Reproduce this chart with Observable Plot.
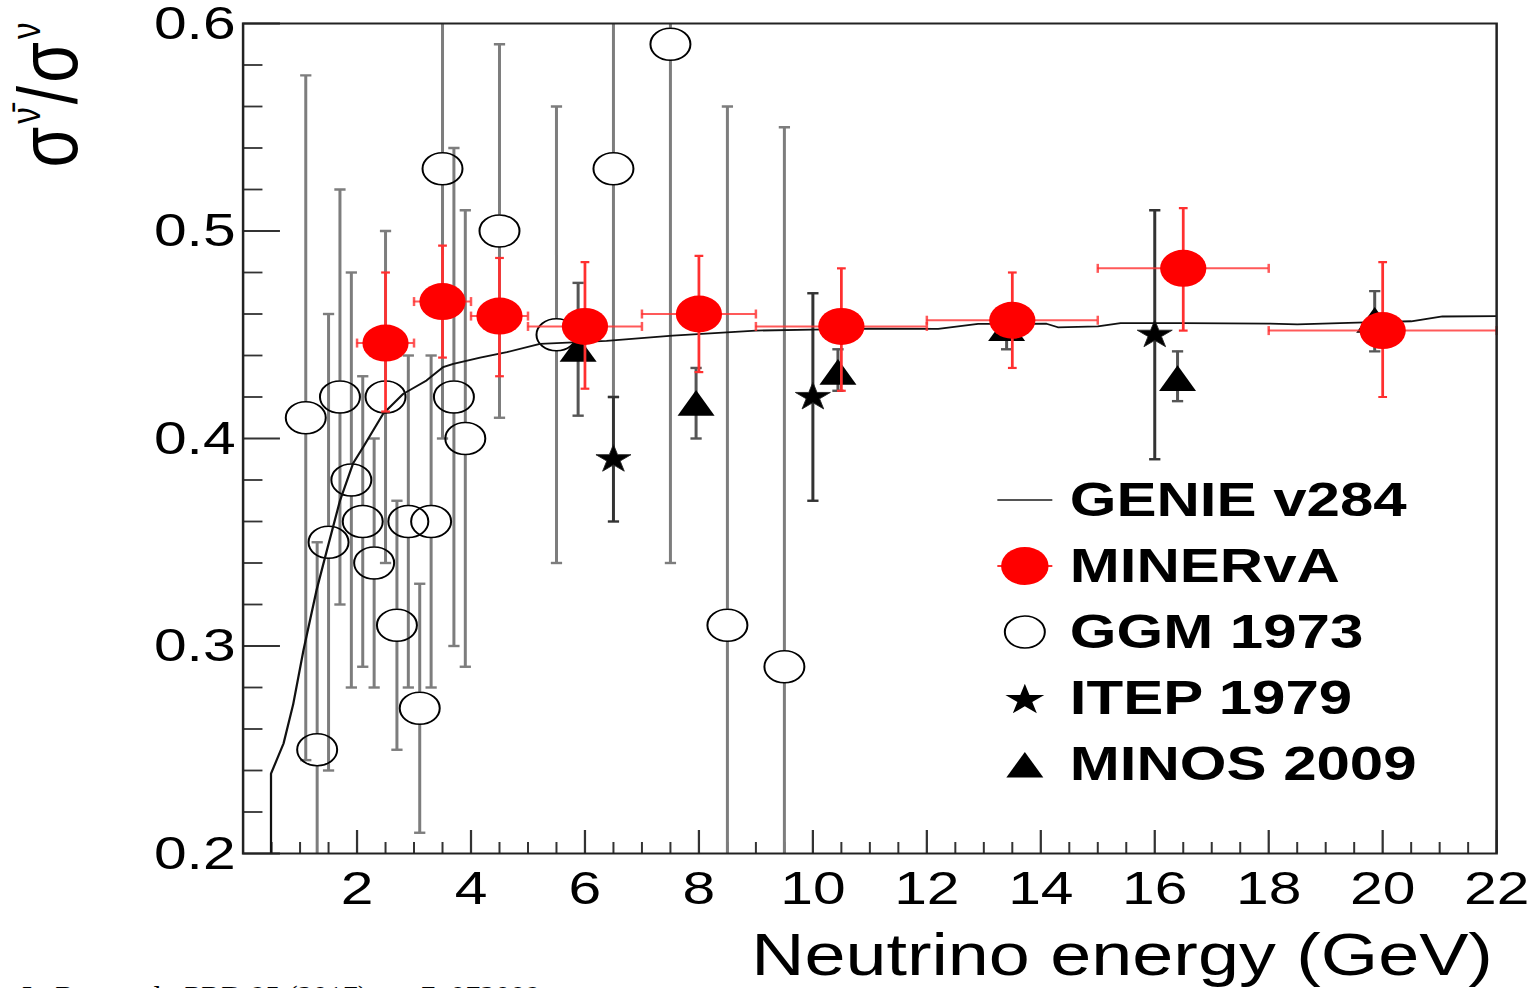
<!DOCTYPE html>
<html><head><meta charset="utf-8">
<script src="https://cdn.jsdelivr.net/npm/d3@7"></script>
<script src="https://cdn.jsdelivr.net/npm/@observablehq/plot@0.6"></script>
<style>
html,body{margin:0;padding:0;background:#fff;overflow:hidden;width:1536px;height:988px;}
#wrap{position:absolute;left:0;top:0;width:1229px;height:988px;transform:scaleX(1.2498);transform-origin:0 0;}
#legend{position:absolute;left:798px;top:467px;font-family:"Liberation Sans",Arial,sans-serif;font-weight:bold;font-size:48px;color:#000;}
.row{display:flex;align-items:center;height:66px;line-height:66px;white-space:nowrap;}
.row svg{width:44px;height:66px;margin-right:14px;overflow:visible;flex:none;}
#caption{position:absolute;left:22px;top:981px;font-family:"Liberation Serif","Times New Roman",serif;font-size:30px;line-height:30px;white-space:nowrap;color:#000;}
</style></head><body>
<div id="wrap"><div id="chart"></div><div id="legend"></div></div>
<div id="caption">L. Ren et al., PRD 95 (2017) no. 7, 072009</div>
<script>
// ---------- data ----------
const genieX = [0.49, 0.49, 0.71, 0.88, 1.06, 1.29, 1.47, 1.70, 1.93, 2.11, 2.46, 2.81, 3.22, 3.51, 3.69, 4.16, 4.63, 5.21, 6.38, 7.54, 9.0, 10.0, 11.0, 12.2, 12.9, 14.1, 14.3, 15.0, 15.4, 16.5, 18.0, 18.5, 19.7, 20.5, 21.05, 22];
const genieY = [0.19, 0.2385, 0.253, 0.272, 0.298, 0.327, 0.346, 0.370, 0.388, 0.396, 0.412, 0.4215, 0.428, 0.4344, 0.436, 0.439, 0.4416, 0.4456, 0.447, 0.4496, 0.452, 0.4525, 0.453, 0.4528, 0.4552, 0.4553, 0.4536, 0.454, 0.4556, 0.4556, 0.4554, 0.455, 0.456, 0.4565, 0.4588, 0.459];

const minervaX   = [2.5, 3.5, 4.5, 6, 8, 10.5, 13.5, 16.5, 20];
const minervaXLo = [2, 3, 4, 5, 7, 9, 12, 15, 18];
const minervaXHi = [3, 4, 5, 7, 9, 12, 15, 18, 22];
const minervaY   = [0.446, 0.466, 0.459, 0.454, 0.460, 0.454, 0.457, 0.482, 0.452];
const minervaLo  = [0.413, 0.439, 0.430, 0.424, 0.432, 0.423, 0.434, 0.452, 0.420];
const minervaHi  = [0.480, 0.493, 0.487, 0.485, 0.488, 0.482, 0.480, 0.511, 0.485];

const ggmX   = [1.1, 1.3, 1.5, 1.7, 1.9, 2.1, 2.3, 2.5, 2.7, 2.9, 3.1, 3.3, 3.5, 3.7, 3.9, 4.5, 5.5, 6.5, 7.5, 8.5, 9.5];
const ggmY   = [0.41, 0.25, 0.35, 0.42, 0.38, 0.36, 0.34, 0.42, 0.31, 0.36, 0.27, 0.36, 0.53, 0.42, 0.40, 0.50, 0.45, 0.53, 0.59, 0.31, 0.29];
const ggmErr = [0.165, 0.10, 0.11, 0.10, 0.10, 0.07, 0.06, 0.08, 0.06, 0.08, 0.06, 0.08, 0.13, 0.12, 0.11, 0.09, 0.11, 0.11, 0.25, 0.25, 0.26];

const itepX   = [6.5, 10, 16];
const itepY   = [0.39, 0.42, 0.45];
const itepErr = [0.03, 0.05, 0.06];

const minosX  = [5.88, 7.95, 10.44, 13.4, 16.4, 19.86];
const minosY  = [0.443, 0.417, 0.432, 0.453, 0.429, 0.457];
const minosLo = [0.411, 0.400, 0.423, 0.443, 0.418, 0.442];
const minosHi = [0.475, 0.434, 0.443, 0.463, 0.442, 0.471];

const xTicks = [2, 4, 6, 8, 10, 12, 14, 16, 18, 20, 22];
const yTicks = [0.2, 0.3, 0.4, 0.5, 0.6];
const xMinor = d3.range(0.5, 22, 0.5).filter(v => v % 2 !== 0);
const yMinor = d3.range(0.22, 0.6, 0.02).filter(v => Math.abs(v * 10 - Math.round(v * 10)) > 1e-6);

const legendLabels = ["GENIE v284", "MINERvA", "GGM 1973", "ITEP 1979", "MINOS 2009"];

// ---------- tables ----------
const genie = genieX.map((x, i) => ({x, y: genieY[i]}));
const minerva = minervaX.map((x, i) => ({x, xlo: minervaXLo[i], xhi: minervaXHi[i], y: minervaY[i], lo: minervaLo[i], hi: minervaHi[i]}));
const ggm = ggmX.map((x, i) => ({x, y: ggmY[i], lo: ggmY[i] - ggmErr[i], hi: ggmY[i] + ggmErr[i]}));
const itep = itepX.map((x, i) => ({x, y: itepY[i], lo: itepY[i] - itepErr[i], hi: itepY[i] + itepErr[i]}));
const minos = minosX.map((x, i) => ({x, y: minosY[i], lo: minosLo[i], hi: minosHi[i]}));

// ---------- styling ----------
const FONT = "'Liberation Sans', Arial, Helvetica, sans-serif";
const W = 1229, H = 988, ML = 194, MR = 32, MT = 23, MB = 135;
const innerW = W - ML - MR, innerH = H - MT - MB;
const GRAY = "#7d7d7d", RED = "#ff0000", REDBAR = "#ff3030";
const hCap = {draw(c, s) { const r = Math.sqrt(s / Math.PI); c.moveTo(-r, 0); c.lineTo(r, 0); }};
const vCap = {draw(c, s) { const r = Math.sqrt(s / Math.PI); c.moveTo(0, -r); c.lineTo(0, r); }};

function errMarks(data, color, width, capR) {
  return [
    Plot.ruleX(data, {x: "x", y1: "lo", y2: "hi", stroke: color, strokeWidth: width, clip: true}),
    Plot.dot(data, {x: "x", y: "lo", symbol: hCap, r: capR, stroke: color, strokeWidth: width, fill: "none", clip: true}),
    Plot.dot(data, {x: "x", y: "hi", symbol: hCap, r: capR, stroke: color, strokeWidth: width, fill: "none", clip: true})
  ];
}

const chart = Plot.plot({
  width: W, height: H,
  marginLeft: ML, marginRight: MR, marginTop: MT, marginBottom: MB,
  style: {fontFamily: FONT, color: "black", background: "transparent", overflow: "visible"},
  x: {domain: [0, 22]},
  y: {domain: [0.2, 0.6]},
  marks: [
    // inward ticks
    Plot.tickX(xMinor, {x: d => d, insetTop: innerH - 11, stroke: "#333", strokeWidth: 1.6}),
    Plot.tickX(xTicks, {x: d => d, insetTop: innerH - 23, stroke: "#333", strokeWidth: 1.8}),
    Plot.tickY(yMinor, {y: d => d, insetRight: innerW - 16, stroke: "#333", strokeWidth: 1.8}),
    Plot.tickY(yTicks, {y: d => d, insetRight: innerW - 30, stroke: "#333", strokeWidth: 2}),
    Plot.axisY({ticks: yTicks, tickSize: 0, tickPadding: 6, fontSize: 47, fill: "black", tickFormat: d3.format(".1f"), label: null}),
    Plot.axisX({ticks: xTicks, tickSize: 0, tickPadding: 17, fontSize: 47, fill: "black", tickFormat: d => String(d), label: null}),
    Plot.text(["Neutrino energy (GeV)"], {text: d => d, frameAnchor: "bottom-right", textAnchor: "end", lineAnchor: "bottom", dx: -3, dy: 121, fontSize: 59, fill: "black"}),

    // GGM 1973: gray bars leaving a gap at the open marker
    Plot.ruleX(ggm, {x: "x", y1: "hi", y2: "y", insetBottom: 16, stroke: GRAY, strokeWidth: 2.4, clip: true}),
    Plot.ruleX(ggm, {x: "x", y1: "y", y2: "lo", insetTop: 16, stroke: GRAY, strokeWidth: 2.4, clip: true}),
    Plot.dot(ggm, {x: "x", y: "hi", symbol: hCap, r: 4.5, stroke: GRAY, strokeWidth: 2.4, fill: "none", clip: true}),
    Plot.dot(ggm, {x: "x", y: "lo", symbol: hCap, r: 4.5, stroke: GRAY, strokeWidth: 2.4, fill: "none", clip: true}),
    Plot.dot(ggm, {x: "x", y: "y", r: 16, stroke: "black", strokeWidth: 1.6, fill: "none"}),

    // ITEP 1979
    ...errMarks(itep, "#333", 2.4, 4.5),
    Plot.dot(itep, {x: "x", y: "y", symbol: "star", r: 8.8, fill: "black", stroke: "#222", strokeWidth: 0.8}),

    // MINOS 2009 (dy centres the triangle's box on the value)
    ...errMarks(minos, "#555", 2.4, 4.5),
    Plot.dot(minos, {x: "x", y: "y", symbol: "triangle", r: 11, fill: "black", dy: 4}),

    // GENIE v284
    Plot.line(genie, {x: "x", y: "y", stroke: "#111", strokeWidth: 1.8, clip: true}),

    // MINERvA
    Plot.ruleY(minerva, {y: "y", x1: "xlo", x2: "xhi", stroke: REDBAR, strokeOpacity: 0.8, strokeWidth: 2}),
    Plot.dot(minerva, {x: "xlo", y: "y", symbol: vCap, r: 4.5, stroke: REDBAR, strokeOpacity: 0.8, strokeWidth: 2, fill: "none"}),
    Plot.dot(minerva, {x: "xhi", y: "y", symbol: vCap, r: 4.5, stroke: REDBAR, strokeOpacity: 0.8, strokeWidth: 2, fill: "none"}),
    ...errMarks(minerva, REDBAR, 2.2, 3.5),
    Plot.dot(minerva, {x: "x", y: "y", r: 18.5, fill: RED}),

    Plot.frame({stroke: "#222", strokeWidth: 2})
  ]
});
document.getElementById("chart").appendChild(chart);

// y-axis title  σ^ν̄ / σ^ν
const ylab = d3.select(chart).append("text")
  .attr("transform", "translate(62,95) rotate(-90)")
  .attr("text-anchor", "middle")
  .attr("font-family", FONT).attr("font-size", 66).attr("fill", "black");
ylab.append("tspan").text("σ");
ylab.append("tspan").attr("font-size", 33).attr("dx", 3).attr("dy", -30).text("ν\u0304");
ylab.append("tspan").attr("dx", 3).attr("dy", 30).text("/");
ylab.append("tspan").attr("dx", 3).text("σ");
ylab.append("tspan").attr("font-size", 33).attr("dx", 3).attr("dy", -30).text("ν");

// legend (HTML overlay)
const legend = d3.select("#legend");
const symbolPaths = [null, null, null, d3.symbol(d3.symbolStar, 300)(), d3.symbol(d3.symbolTriangle, 379)()];
legendLabels.forEach((lab, i) => {
  const row = legend.append("div").attr("class", "row");
  const s = row.append("svg").attr("viewBox", "-22 -33 44 66");
  if (i === 0) s.append("line").attr("x1", -22).attr("x2", 22).attr("stroke", "#555").attr("stroke-width", 2);
  if (i === 1) {
    s.append("line").attr("x1", -22).attr("x2", 22).attr("stroke", REDBAR).attr("stroke-width", 2);
    s.append("circle").attr("r", 19).attr("fill", RED);
  }
  if (i === 2) s.append("circle").attr("r", 16).attr("fill", "none").attr("stroke", "black").attr("stroke-width", 1.6);
  if (i === 3) s.append("path").attr("d", symbolPaths[i]).attr("fill", "black").attr("transform", "translate(0,2)");
  if (i === 4) s.append("path").attr("d", symbolPaths[i]).attr("fill", "black").attr("transform", "translate(0,5)");
  row.append("span").text(lab);
});
</script>
</body></html>
